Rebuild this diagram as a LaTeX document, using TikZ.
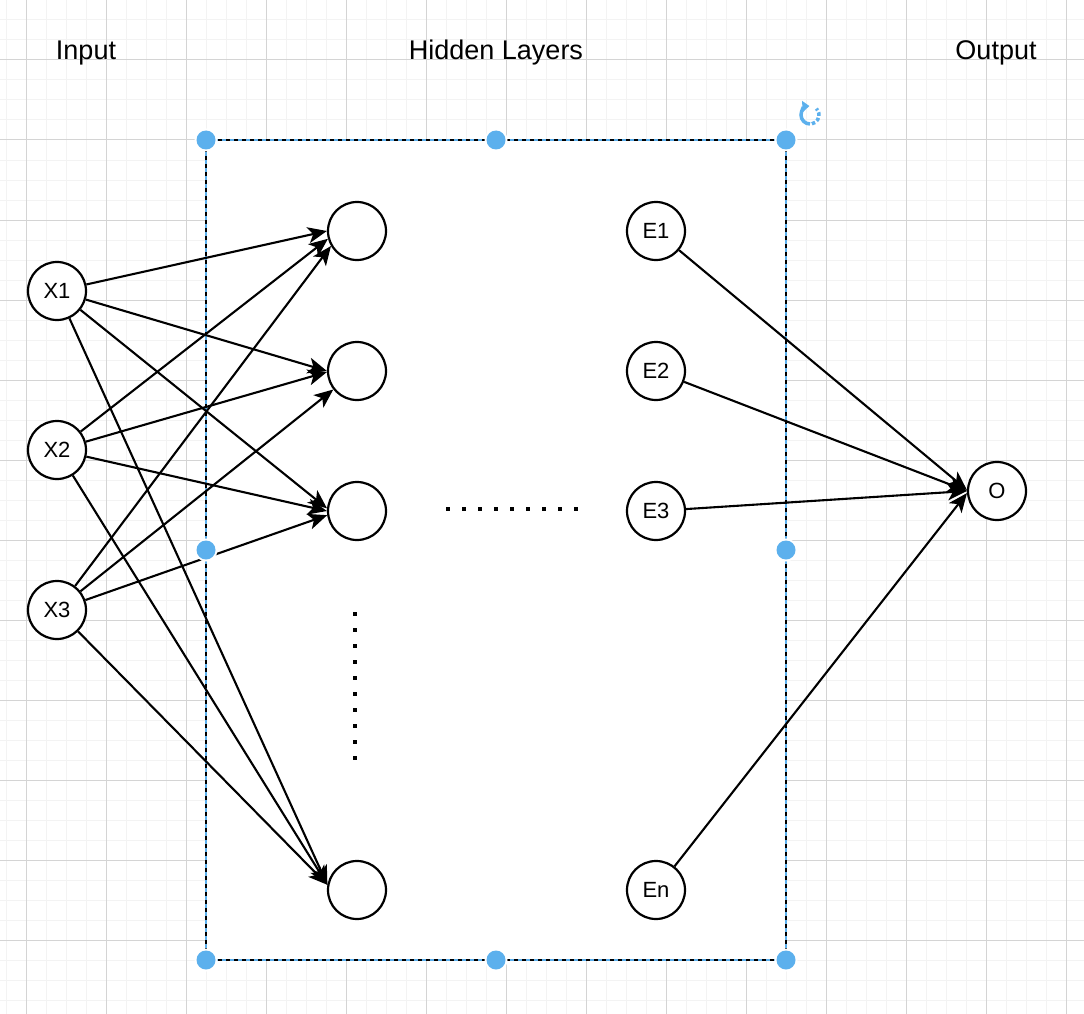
\documentclass[tikz,border=0pt]{standalone}
\usepackage{fontspec}
\setmainfont{Liberation Sans}
\usetikzlibrary{arrows.meta}
\definecolor{gridminor}{RGB}{243,243,243}
\definecolor{gridmajor}{RGB}{212,212,212}
\definecolor{handleblue}{RGB}{92,176,237}
\begin{document}
\begin{tikzpicture}[x=1pt,y=-1pt,
  neuron/.style={circle,draw=black,line width=2.2pt,fill=white,minimum size=58pt,inner sep=0pt,font=\fontsize{22}{25}\selectfont},
  title/.style={anchor=base,inner sep=0pt,font=\fontsize{27}{32}\selectfont},
  conn/.style={draw=black,line width=2.1pt,-{Stealth[length=19pt 0,width=16pt 0,inset=5pt 0]}},
  handledot/.style={fill=handleblue},
  dotsq/.style={fill=black}]
\useasboundingbox (0,0) rectangle (1084,1014);
\fill[white] (0,0) rectangle (1084,1014);
% grid
\foreach \x in {6,26,...,1084} \draw[gridminor,line width=1pt] (\x,0) -- (\x,1014);
\foreach \y in {0,20,...,1014} \draw[gridminor,line width=1pt] (0,\y) -- (1084,\y);
\foreach \x in {26,106,...,1084} \draw[gridmajor,line width=1pt] (\x,0) -- (\x,1014);
\foreach \y in {60,140,...,1014} \draw[gridmajor,line width=1pt] (0,\y) -- (1084,\y);
% titles
\node[title] (tin) at (86,60) {Input};
\node[title] (thid) at (496,60) {Hidden Layers};
\node[title] (tout) at (996,59.5) {Output};
% container rectangle
\fill[white] (206,140) rectangle (786,960);
\draw[handleblue,line width=1.8pt] (206,140) rectangle (786,960);
\draw[black,line width=1.8pt,dash pattern=on 4pt off 4pt] (206,140) rectangle (786,960);
% neurons
\node[neuron] (x1) at (57,291) {X1};
\node[neuron] (x2) at (57,450) {X2};
\node[neuron] (x3) at (57,610) {X3};
\node[neuron] (h1) at (357,231) {};
\node[neuron] (h2) at (357,371) {};
\node[neuron] (h3) at (357,511) {};
\node[neuron] (h5) at (357,890) {};
\node[neuron] (e1) at (656,231) {E1};
\node[neuron] (e2) at (656,371) {E2};
\node[neuron] (e3) at (656,511) {E3};
\node[neuron] (en) at (656,890) {En};
\node[neuron] (o) at (997,491) {O};
% dots
\foreach \i in {0,...,8} \fill[dotsq] (446+16*\i,507) rectangle ++(4,4);
\foreach \i in {0,...,9} \fill[dotsq] (353,612+16*\i) rectangle ++(4,4);
% connections input -> hidden
\draw[conn] (x1) -- (h1.180);
\draw[conn] (x2) -- (h1.195);
\draw[conn] (x3) -- (h1.210);
\draw[conn] (x1) -- (h2.180);
\draw[conn] (x2) -- (h2.182);
\draw[conn] (x3) -- (h2.218);
\draw[conn] (x1) -- (h3.175);
\draw[conn] (x2) -- (h3.180);
\draw[conn] (x3) -- (h3.188);
\draw[conn] (x1) -- (h5.170);
\draw[conn] (x2) -- (h5.170);
\draw[conn] (x3) -- (h5.170);
% connections hidden -> output
\draw[conn] (e1) -- (o.178);
\draw[conn] (e2) -- (o.180);
\draw[conn] (e3) -- (o.180);
\draw[conn] (en) -- (o.184);
% selection handles
\foreach \p in {(206,140),(496,140),(786,140),(206,550),(786,550),(206,960),(496,960),(786,960)}{
  \fill[white] \p circle (11.5);
  \fill[handledot] \p circle (9.5);
}
% rotate icon
\draw[handleblue,line width=3.5pt,-{Triangle[length=7pt,width=11pt]}] (810,115) ++(90:9) arc[start angle=90,end angle=266,radius=9];
\draw[handleblue,line width=3.5pt,dash pattern=on 3.5pt off 2.2pt] (810,115) ++(78:9) arc[start angle=78,end angle=-45,radius=9];
\end{tikzpicture}
\end{document}
